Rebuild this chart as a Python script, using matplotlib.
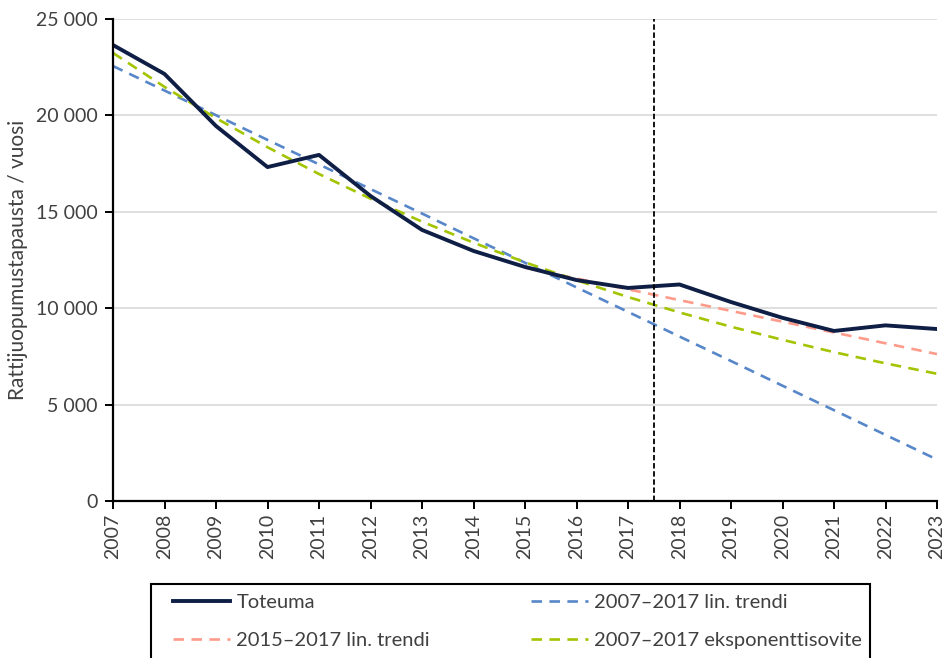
import matplotlib
matplotlib.use("Agg")
import matplotlib.pyplot as plt
from matplotlib.ticker import FuncFormatter

plt.rcParams['font.family'] = ['Lato', 'DejaVu Sans']

years = list(range(2007, 2024))
years_actual = list(range(2007, 2024))
toteuma = [23650, 22150, 19450, 17320, 17950, 15820, 14060, 12970, 12140,
           11460, 11050, 11230, 10320, 9500, 8820, 9110, 8920]

# 2007-2017 linear trend
lin_0717 = [22560, 21290, 20010, 18730, 17460, 16180, 14910, 13630, 12360,
            11080, 9810, 8530, 7260, 5980, 4710, 3430, 2150]

# 2015-2017 linear trend
years_1517 = list(range(2015, 2024))
lin_1517 = [12100, 11540, 10980, 10420, 9860, 9300, 8740, 8180, 7620]

# 2007-2017 exponential fit
exp_0717 = [23240, 21480, 19860, 18350, 16960, 15680, 14490, 13400, 12380,
            11450, 10580, 9780, 9040, 8360, 7720, 7140, 6600]

text_col = "#404040"
dash = (0, (4, 2.8))

fig = plt.figure(figsize=(9.44, 6.58), dpi=100)
ax = fig.add_axes([113/944, 1 - 501/658, (937 - 113)/944, (501 - 19)/658])

ax.plot(years_actual, toteuma, color="#0E1E45", lw=2.8, label="Toteuma", zorder=5)
ax.plot(years, lin_0717, color="#5787C8", lw=1.9, ls=dash, label="2007\u20132017 lin. trendi", zorder=3)
ax.plot(years_1517, lin_1517, color="#FF9B8A", lw=1.9, ls=dash, label="2015\u20132017 lin. trendi", zorder=3)
ax.plot(years, exp_0717, color="#A3C400", lw=1.9, ls=dash, label="2007\u20132017 eksponenttisovite", zorder=4)

ax.axvline(2017.5, color="black", lw=1.3, ls=(0, (3, 1.5)), zorder=6)

ax.set_xlim(2007, 2023)
ax.set_ylim(0, 25000)
ax.set_xticks(years)
ax.set_xticklabels([str(y) for y in years], rotation=90)
ax.set_yticks(range(0, 25001, 5000))
ax.yaxis.set_major_formatter(FuncFormatter(lambda v, p: f"{int(v):,}".replace(",", " ")))

ax.grid(axis="y", color="#D9D9D9", lw=1.2)
ax.set_axisbelow(True)
for s in ["top", "right"]:
    ax.spines[s].set_visible(False)
for s in ["left", "bottom"]:
    ax.spines[s].set_color("black")
    ax.spines[s].set_linewidth(1.6)
    ax.spines[s].set_zorder(7)

ax.tick_params(axis="both", direction="out", length=6, width=1.4, color="black",
               labelsize=14, labelcolor=text_col)
ax.tick_params(axis="y", pad=5)
ax.tick_params(axis="x", pad=3)

ax.set_ylabel("Rattijuopumustapausta / vuosi", fontsize=15, color=text_col, labelpad=6)

# legend box, cut by the bottom edge like in the original
frame = plt.Rectangle((151/944, -0.02), (870 - 151)/944, (658 - 584)/658 + 0.02,
                      transform=fig.transFigure, fill=False, edgecolor="black",
                      lw=1.5, clip_on=False)
fig.patches.append(frame)

handles, labels = ax.get_legend_handles_labels()
order = [0, 2, 1, 3]
leg = fig.legend([handles[i] for i in order], [labels[i] for i in order],
                 loc="upper left", bbox_to_anchor=(173/944, 1 - 594/658),
                 ncol=2, fontsize=14.5, frameon=False,
                 handlelength=2.85, handletextpad=0.3, labelspacing=1.05, borderaxespad=0,
                 borderpad=0, columnspacing=5.0)
for t in leg.get_texts():
    t.set_color(text_col)

plt.savefig("out.png", dpi=100)
plt.close()
